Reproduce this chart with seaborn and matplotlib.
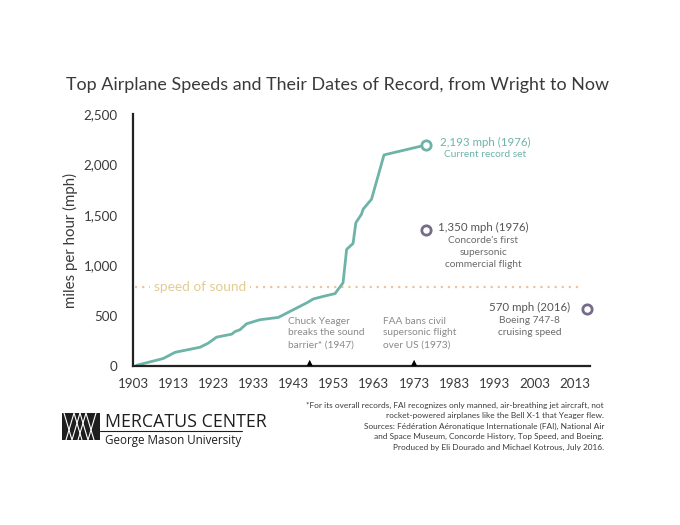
import matplotlib
matplotlib.use("Agg")
import matplotlib.pyplot as plt
import matplotlib.patches as mpatches
import pandas as pd
import seaborn as sns

# record progression (year, mph)
record_years = [1903.9, 1910.5, 1913.5, 1919.7, 1921.7, 1923.8, 1927.6, 1928.4,
                1929.6, 1931.3, 1934.6, 1939.2, 1942.9, 1946.2, 1947.9, 1950.4,
                1953.3, 1955.3, 1956.2, 1957.8, 1958.5, 1959.9, 1960.3, 1962.4,
                1965.5, 1976]
record_mph = [7, 74, 136, 186, 226, 286, 316, 342, 359, 419, 459, 482, 558, 625,
              665, 691, 718, 825, 1157, 1216, 1422, 1506, 1555, 1655, 2094, 2193]

# highlighted points
other_years = [1976, 2016]
other_mph = [1350, 570]
other_main = ["1,350 mph (1976)", "570 mph (2016)"]
other_sub = ["Concorde's first\nsupersonic\ncommercial flight",
             "Boeing 747-8\ncruising speed"]

event_years = [1947, 1973]
event_labels = ["Chuck Yeager\nbreaks the sound\nbarrier* (1947)",
                "FAA bans civil\nsupersonic flight\nover US (1973)"]

speed_of_sound = 780
x_ticks = list(range(1903, 2014, 10))
y_ticks = [0, 500, 1000, 1500, 2000, 2500]

TEAL = "#6db3a8"
PURPLE = "#756b8a"
GREY = "#8a8a8a"
DARK = "#3a3a3a"

sns.set_theme(style="white")
plt.rcParams["font.family"] = ["Lato", "DejaVu Sans"]

fig = plt.figure(figsize=(6.8, 5.25), dpi=100)
ax = fig.add_axes([133 / 680, 1 - 366 / 525, 457 / 680, 252 / 525])

df = pd.DataFrame({"year": record_years, "mph": record_mph})
sns.lineplot(data=df, x="year", y="mph", ax=ax, color=TEAL, linewidth=2.0)

# speed of sound
ax.axhline(speed_of_sound, xmin=0.005, xmax=0.985, color="#f0c3a0",
           linestyle=(0, (1, 2.2)), linewidth=1.6, zorder=1)
ax.text(1919.7, speed_of_sound, "speed of sound", color="#e2cc92", fontsize=9.8,
        ha="center", va="center", zorder=2,
        bbox=dict(facecolor="white", edgecolor="none", pad=2.5))

# record endpoint
sns.scatterplot(x=[record_years[-1]], y=[record_mph[-1]], ax=ax, s=45,
                facecolor="white", edgecolor=TEAL, linewidth=2.0, zorder=5,
                clip_on=False)
ax.text(1990.6, 2215, "2,193 mph (1976)", color=TEAL, fontsize=8.3,
        ha="center", va="center")
ax.text(1990.6, 2100, "Current record set", color=TEAL, fontsize=7.3,
        ha="center", va="center")

# other points
sns.scatterplot(x=other_years, y=other_mph, ax=ax, s=45, facecolor="white",
                edgecolor=PURPLE, linewidth=2.0, zorder=5, clip_on=False)
ax.text(1990.2, 1372, other_main[0], color="#555555", fontsize=8.3,
        ha="center", va="center")
ax.text(1990.2, 1290, other_sub[0], color="#6a6a6a", fontsize=7.3,
        ha="center", va="top", linespacing=1.42)
ax.text(2001.7, 582, other_main[1], color="#555555", fontsize=8.3,
        ha="center", va="center")
ax.text(2001.7, 500, other_sub[1], color="#6a6a6a", fontsize=7.3,
        ha="center", va="top", linespacing=1.42)

# events on the axis
sns.scatterplot(x=event_years, y=[0] * len(event_years), ax=ax, s=80,
                marker=[(-1, 0), (1, 0), (0, 2)], color="black",
                edgecolor="none", zorder=6, clip_on=False)
for lab, x0 in zip(event_labels, [1941.5, 1965.3]):
    ax.text(x0, 490, lab, color=GREY, fontsize=7.3, ha="left", va="top",
            linespacing=1.4)

ax.set_xlim(1903, 2016.8)
ax.set_ylim(0, 2500)
ax.set_xticks(x_ticks)
ax.set_yticks(y_ticks)
ax.set_yticklabels([f"{v:,}" for v in y_ticks])
ax.tick_params(length=0, labelsize=9.6, colors=DARK)
ax.tick_params(axis="x", pad=9)
ax.tick_params(axis="y", pad=11)
ax.set_xlabel("")
ax.set_ylabel("miles per hour (mph)", fontsize=10.8, color=DARK, labelpad=4)
for side in ["top", "right"]:
    ax.spines[side].set_visible(False)
for side in ["left", "bottom"]:
    ax.spines[side].set_color("#222222")
    ax.spines[side].set_linewidth(1.6)

fig.text(338 / 680, 1 - 85 / 525,
         "Top Airplane Speeds and Their Dates of Record, from Wright to Now",
         ha="center", va="center", fontsize=12.9, color=DARK)

footnote = ("*For its overall records, FAI recognizes only manned, air-breathing jet aircraft, not\n"
            "rocket-powered airplanes like the Bell X-1 that Yeager flew.\n"
            "Sources: Fédération Aéronatique Internationale (FAI), National Air\n"
            "and Space Museum, Concorde History, Top Speed, and Boeing.\n"
            "Produced by Eli Dourado and Michael Kotrous, July 2016.")
fig.text(604 / 680, 1 - 402 / 525, footnote, ha="right", va="top",
         fontsize=5.95, color=DARK, linespacing=1.55)

# logo
lax = fig.add_axes([62 / 680, 1 - 440 / 525, 38 / 680, 27 / 525])
lax.set_xlim(0, 38)
lax.set_ylim(0, 27)
lax.axis("off")
lax.add_patch(mpatches.Rectangle((0, 0), 38, 27, color="#1e1e1e"))
for xs in [(2, 10, 18), (18, 26, 34)]:
    lax.plot([xs[0], xs[1], xs[2]], [27, 0, 27], color="white", lw=0.8)
for xs in [(4, 12, 20), (16, 24, 32)]:
    lax.plot([xs[0], xs[1], xs[2]], [0, 27, 0], color="white", lw=0.8)
fig.text(105 / 680, 1 - 422 / 525, "MERCATUS CENTER", fontsize=12.8,
         color="#1e1e1e", va="center", ha="left",
         family=["Open Sans", "DejaVu Sans"])
fig.add_artist(plt.Line2D([100 / 680, 242 / 680], [1 - 431 / 525, 1 - 431 / 525],
                          color="#1e1e1e", lw=0.8))
fig.text(105 / 680, 1 - 440.5 / 525, "George Mason University", fontsize=8.4,
         color="#1e1e1e", va="center", ha="left",
         family=["Open Sans", "DejaVu Sans"])

fig.savefig("out.png", dpi=100)
